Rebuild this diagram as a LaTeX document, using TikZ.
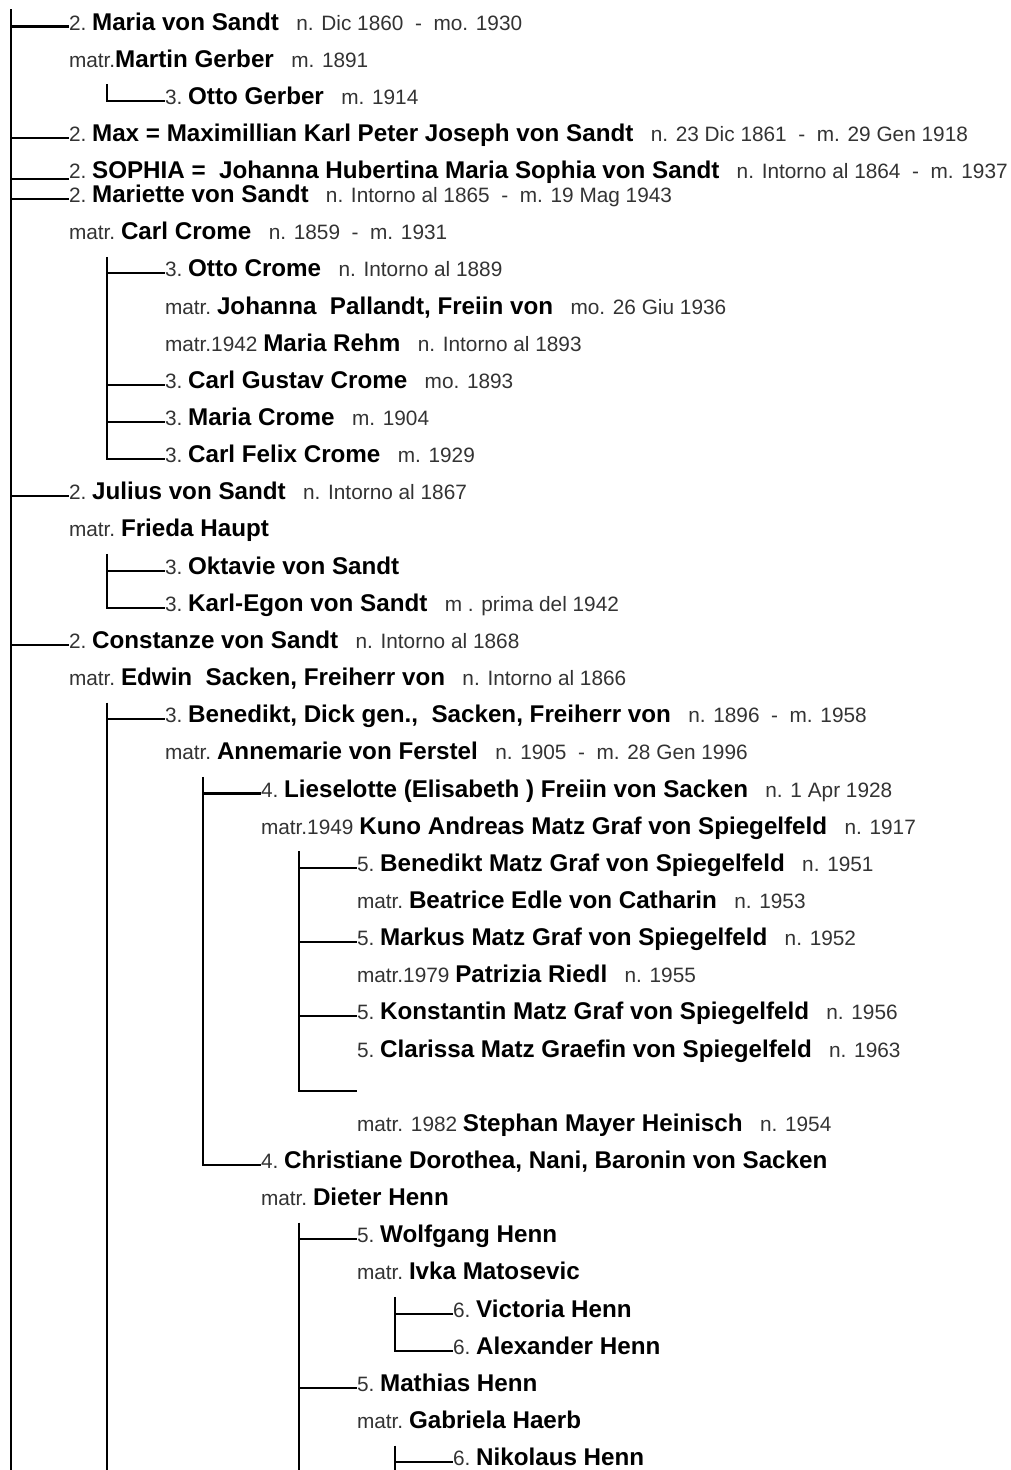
\documentclass[tikz,border=0pt]{standalone}
\usepackage{fontspec}
\setmainfont{Liberation Sans}
\definecolor{txtgray}{HTML}{333333}
\newcommand{\nrm}[1]{{\fontsize{20.8}{25}\selectfont\color{txtgray}#1}}
\newcommand{\bld}[1]{{\fontsize{24.2}{28}\selectfont\bfseries #1}}
\pgfmathdeclarefunction{yb}{1}{\pgfmathparse{#1<6 ? 30+(#1-1)*37.15 : 202.6+(#1-6)*37.15}}
\tikzset{
  person/.style={anchor=base west, inner sep=0pt, outer sep=0pt},
  link/.style={line width=2.1pt, black},
}
\newcommand{\PRow}[5]{%
  \node[person] (r#1) at (#2,{yb(#1)}) {\nrm{#3}\bld{#4}\nrm{#5}};
  \coordinate (c#1) at (#2,{yb(#1)-3.5});
}
\begin{document}
\begin{tikzpicture}[x=1pt,y=-1pt]
\fill[white] (0,0) rectangle (1010,1470);
\useasboundingbox (0,0) rectangle (1010,1470);

\PRow{1}{69}{2.~}{Maria von Sandt}{~~~n. Dic 1860~~-~~mo. 1930}
\PRow{2}{69}{matr.}{Martin Gerber}{~~~m. 1891}
\PRow{3}{165}{3.~}{Otto Gerber}{~~~m. 1914}
\PRow{4}{69}{2.~}{Max = Maximillian Karl Peter Joseph von Sandt}{~~~n. 23 Dic 1861~~-~~m. 29 Gen 1918}
\PRow{5}{69}{2.~}{SOPHIA =~~Johanna Hubertina Maria Sophia von Sandt}{~~~n. Intorno al 1864~~-~~m. 1937}
\coordinate (c5) at (69,{yb(5)+0.5});
\PRow{6}{69}{2.~}{Mariette von Sandt}{~~~n. Intorno al 1865~~-~~m. 19 Mag 1943}
\PRow{7}{69}{matr.~}{Carl Crome}{~~~n. 1859~~-~~m. 1931}
\PRow{8}{165}{3.~}{Otto Crome}{~~~n. Intorno al 1889}
\PRow{9}{165}{matr.~}{Johanna~~Pallandt, Freiin von}{~~~mo. 26 Giu 1936}
\PRow{10}{165}{matr.1942~}{Maria Rehm}{~~~n. Intorno al 1893}
\PRow{11}{165}{3.~}{Carl Gustav Crome}{~~~mo. 1893}
\PRow{12}{165}{3.~}{Maria Crome}{~~~m. 1904}
\PRow{13}{165}{3.~}{Carl Felix Crome}{~~~m. 1929}
\PRow{14}{69}{2.~}{Julius von Sandt}{~~~n. Intorno al 1867}
\PRow{15}{69}{matr.~}{Frieda Haupt}{}
\PRow{16}{165}{3.~}{Oktavie von Sandt}{}
\PRow{17}{165}{3.~}{Karl-Egon von Sandt}{~~~m . prima del 1942}
\PRow{18}{69}{2.~}{Constanze von Sandt}{~~~n. Intorno al 1868}
\PRow{19}{69}{matr.~}{Edwin~~Sacken, Freiherr von}{~~~n. Intorno al 1866}
\PRow{20}{165}{3.~}{Benedikt, Dick gen.,~~Sacken, Freiherr von}{~~~n. 1896~~-~~m. 1958}
\PRow{21}{165}{matr.~}{Annemarie von Ferstel}{~~~n. 1905~~-~~m. 28 Gen 1996}
\PRow{22}{261}{4.~}{Lieselotte (Elisabeth ) Freiin von Sacken}{~~~n. 1 Apr 1928}
\PRow{23}{261}{matr.1949~}{Kuno Andreas Matz Graf von Spiegelfeld}{~~~n. 1917}
\PRow{24}{357}{5.~}{Benedikt Matz Graf von Spiegelfeld}{~~~n. 1951}
\PRow{25}{357}{matr.~}{Beatrice Edle von Catharin}{~~~n. 1953}
\PRow{26}{357}{5.~}{Markus Matz Graf von Spiegelfeld}{~~~n. 1952}
\PRow{27}{357}{matr.1979~}{Patrizia Riedl}{~~~n. 1955}
\PRow{28}{357}{5.~}{Konstantin Matz Graf von Spiegelfeld}{~~~n. 1956}
\PRow{29}{357}{5.~}{Clarissa Matz Graefin von Spiegelfeld}{~~~n. 1963}
\coordinate (c30) at (357,{yb(30)-3.5});
\PRow{31}{357}{matr. 1982~}{Stephan Mayer Heinisch}{~~~n. 1954}
\PRow{32}{261}{4.~}{Christiane Dorothea, Nani, Baronin von Sacken}{}
\PRow{33}{261}{matr.~}{Dieter Henn}{}
\PRow{34}{357}{5.~}{Wolfgang Henn}{}
\PRow{35}{357}{matr.~}{Ivka Matosevic}{}
\PRow{36}{453}{6.~}{Victoria Henn}{}
\PRow{37}{453}{6.~}{Alexander Henn}{}
\PRow{38}{357}{5.~}{Mathias Henn}{}
\PRow{39}{357}{matr.~}{Gabriela Haerb}{}
\PRow{40}{453}{6.~}{Nikolaus Henn}{}

% level 1 trunk
\coordinate (t1) at (11,9);
\coordinate (b1) at (11,1470);
\draw[link] (t1) -- (b1);
\foreach \k in {1,4,5,6,14,18} \draw[link] (t1 |- c\k) -- (c\k);

% Gerber
\coordinate (tA) at (107,{yb(2)+17});
\draw[link] (tA) |- (c3);
% Crome
\coordinate (tB) at (107,{yb(7)+17});
\draw[link] (tB) |- (c13);
\foreach \k in {8,11,12} \draw[link] (tB |- c\k) -- (c\k);
% Julius
\coordinate (tC) at (107,{yb(15)+17});
\draw[link] (tC) |- (c17);
\draw[link] (tC |- c16) -- (c16);
% Edwin
\coordinate (tD) at (107,{yb(19)+17});
\coordinate (bD) at (107,1470);
\draw[link] (tD) -- (bD);
\draw[link] (tD |- c20) -- (c20);
% Annemarie
\coordinate (tE) at (203,{yb(21)+17});
\draw[link] (tE) |- (c32);
\draw[link] (tE |- c22) -- (c22);
% Kuno
\coordinate (tF) at (299,{yb(23)+17});
\draw[link] (tF) |- (c30);
\foreach \k in {24,26,28} \draw[link] (tF |- c\k) -- (c\k);
% Dieter
\coordinate (tG) at (299,{yb(33)+17});
\coordinate (bG) at (299,1470);
\draw[link] (tG) -- (bG);
\foreach \k in {34,38} \draw[link] (tG |- c\k) -- (c\k);
% Ivka
\coordinate (tH) at (395,{yb(35)+17});
\draw[link] (tH) |- (c37);
\draw[link] (tH |- c36) -- (c36);
% Gabriela
\coordinate (tI) at (395,{yb(39)+17});
\coordinate (bI) at (395,1470);
\draw[link] (tI) -- (bI);
\draw[link] (tI |- c40) -- (c40);
\end{tikzpicture}
\end{document}
